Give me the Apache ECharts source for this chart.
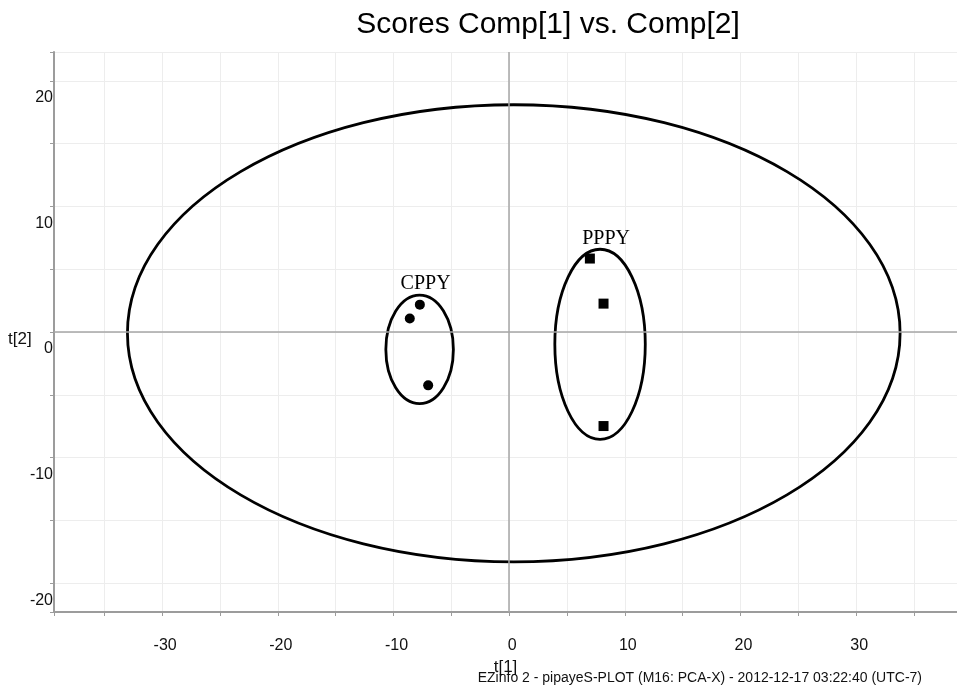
<!DOCTYPE html>
<html>
<head>
<meta charset="utf-8">
<script src="https://cdn.jsdelivr.net/npm/echarts@6/dist/echarts.min.js"></script>
<style>
  html, body { margin: 0; padding: 0; background: #fff; }
  #chart { width: 957px; height: 693px; }
</style>
</head>
<body>
<div id="chart"></div>
<script>
// PCA scores, component 1 vs component 2
const cppyScores = [[-7.72, 2.18], [-8.59, 1.07], [-7.0, -4.25]];
const pppyScores = [[6.98, 5.85], [8.16, 2.26], [8.16, -7.49]];

// Ellipses: Hotelling T2 region and the two group outlines
const ellipseNames = ['', 'CPPY', 'PPPY'];
const ellipseCx = [0.4, -7.74, 7.86];
const ellipseCy = [-0.1, -1.39, -0.98];
const ellipseRx = [33.4, 2.92, 3.91];
const ellipseRy = [18.2, 4.32, 7.57];

const axisFont = 'Liberation Sans';
const tickText = v => (Math.abs(v % 10) < 1e-9 ? String(v) : '');

const chart = echarts.init(document.getElementById('chart'), null, { renderer: 'canvas' });

chart.setOption({
  animation: false,
  backgroundColor: '#fff',
  title: {
    text: 'Scores Comp[1] vs. Comp[2]',
    left: 543,
    textAlign: 'center',
    top: 5,
    textStyle: { fontFamily: axisFont, fontSize: 30, fontWeight: 'normal', color: '#000' }
  },
  grid: { left: 54, right: 0, top: 52, bottom: 81, containLabel: false, outerBoundsMode: 'none' },
  xAxis: {
    type: 'value',
    min: -39.35,
    max: 38.72,
    minInterval: 5,
    maxInterval: 5,
    splitNumber: 16,
    name: 't[1]',
    nameLocation: 'middle',
    nameGap: 46,
    nameTextStyle: { fontFamily: axisFont, fontSize: 17, color: '#111' },
    axisLine: { show: true, onZero: false, lineStyle: { color: '#9c9c9c', width: 2 } },
    axisTick: { show: true, length: 4, lineStyle: { color: '#9c9c9c', width: 1 } },
    axisLabel: { formatter: tickText, margin: 26, fontFamily: axisFont, fontSize: 16, color: '#111', padding: [0, 0, 0, 6] },
    splitLine: { show: true, lineStyle: { color: '#ededed', width: 1 } }
  },
  yAxis: {
    type: 'value',
    min: -22.3,
    max: 22.3,
    minInterval: 5,
    maxInterval: 5,
    splitNumber: 9,
    axisLine: { show: true, onZero: false, lineStyle: { color: '#9c9c9c', width: 2 } },
    axisTick: { show: true, length: 4, lineStyle: { color: '#9c9c9c', width: 1 } },
    axisLabel: { formatter: tickText, margin: 1, verticalAlign: 'top', padding: [9, 0, 0, 0], fontFamily: axisFont, fontSize: 16, color: '#111' },
    splitLine: { show: true, lineStyle: { color: '#ededed', width: 1 } }
  },
  graphic: [
    {
      type: 'text',
      left: 8,
      top: 331,
      style: { text: 't[2]', font: '17px "Liberation Sans"', fill: '#111' }
    },
    {
      type: 'text',
      right: 35,
      top: 671,
      style: {
        text: 'EZinfo 2 - pipayeS-PLOT (M16: PCA-X) - 2012-12-17 03:22:40 (UTC-7)',
        font: '14px "Liberation Sans"',
        fill: '#111'
      }
    }
  ],
  series: [
    {
      type: 'custom',
      clip: true,
      z: 3,
      data: ellipseNames.map((n, i) => [ellipseCx[i], ellipseCy[i], ellipseRx[i], ellipseRy[i]]),
      renderItem: (params, api) => {
        const c = api.coord([api.value(0), api.value(1)]);
        const s = api.size([api.value(2), api.value(3)]);
        const children = [{
          type: 'ellipse',
          shape: { cx: c[0], cy: c[1], rx: s[0], ry: s[1] },
          style: { fill: 'none', stroke: '#000', lineWidth: 2.8 }
        }];
        const name = ellipseNames[params.dataIndex];
        if (name) {
          children.push({
            type: 'text',
            x: c[0] + 6,
            y: c[1] - s[1] - 11,
            style: { text: name, font: '20px "Liberation Serif"', fill: '#000', align: 'center', verticalAlign: 'middle' }
          });
        }
        return { type: 'group', children };
      }
    },
    {
      name: 'CPPY',
      type: 'scatter',
      symbol: 'circle',
      symbolSize: 10,
      z: 4,
      itemStyle: { color: '#000', opacity: 1 },
      data: cppyScores,
      markLine: {
        silent: true,
        symbol: 'none',
        label: { show: false },
        lineStyle: { color: '#a6a6a6', width: 1.5, type: 'solid' },
        data: [{ xAxis: 0 }, { yAxis: 0 }]
      }
    },
    {
      name: 'PPPY',
      type: 'scatter',
      symbol: 'rect',
      symbolSize: 10,
      z: 4,
      itemStyle: { color: '#000', opacity: 1 },
      data: pppyScores
    }
  ]
});
</script>
</body>
</html>
